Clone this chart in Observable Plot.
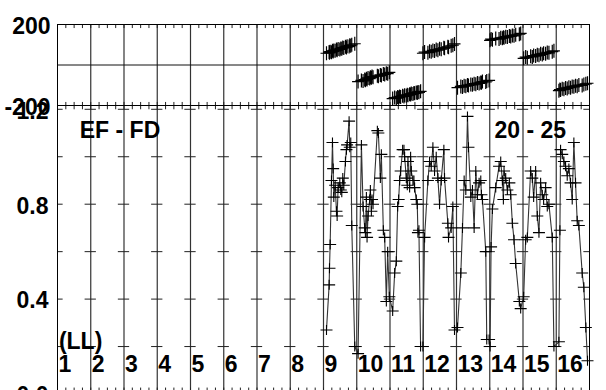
<!DOCTYPE html>
<html>
<head>
<meta charset="utf-8">
<script src="https://cdn.jsdelivr.net/npm/d3@7"></script>
<script src="https://cdn.jsdelivr.net/npm/@observablehq/plot@0.6"></script>
<style>
  html, body { margin: 0; padding: 0; background: white; overflow: hidden; }
  #chart { position: relative; width: 606px; height: 390px; overflow: hidden; background: white; }
  #chart svg { position: absolute; left: 0; top: 0; }
</style>
</head>
<body>
<div id="chart"></div>
<script>
// ---- data ----
// x position of each sample (column index scale 0..16), grouped by column 9..16
const xPos = [
  8.09, 8.17, 8.18, 8.20, 8.24, 8.27, 8.29, 8.31, 8.35, 8.39, 8.41, 8.44, 8.49, 8.52, 8.55, 8.58, 8.61, 8.66, 8.69, 8.71, 8.77, 8.79, 8.82, 8.85, 8.94,
  9.04, 9.14, 9.19, 9.24, 9.26, 9.29, 9.31, 9.34, 9.39, 9.41, 9.44, 9.46, 9.49, 9.62, 9.65, 9.71, 9.74, 9.80, 9.84, 9.89, 9.93, 9.98,
  10.08, 10.14, 10.19, 10.23, 10.26, 10.29, 10.32, 10.38, 10.42, 10.44, 10.49, 10.52, 10.54, 10.59, 10.62, 10.64, 10.69, 10.72, 10.74, 10.79, 10.82, 10.84, 10.87, 10.92,
  10.99, 11.04, 11.14, 11.19, 11.24, 11.29, 11.34, 11.39, 11.44, 11.49, 11.54, 11.62, 11.64, 11.74, 11.76, 11.84, 11.89, 11.94,
  12.03, 12.13, 12.18, 12.23, 12.28, 12.33, 12.36, 12.43, 12.48, 12.53, 12.58, 12.63, 12.68, 12.73, 12.75, 12.78, 12.88, 12.91, 12.98,
  13.01, 13.04, 13.08, 13.18, 13.28, 13.33, 13.38, 13.41, 13.43, 13.48, 13.53, 13.59, 13.63, 13.68, 13.73, 13.78, 13.89, 13.93,
  14.02, 14.08, 14.13, 14.23, 14.28, 14.32, 14.38, 14.43, 14.48, 14.53, 14.58, 14.62, 14.68, 14.73, 14.78, 14.88, 14.93,
  15.08, 15.11, 15.13, 15.18, 15.23, 15.28, 15.33, 15.38, 15.43, 15.48, 15.53, 15.58, 15.63, 15.68, 15.78, 15.83, 15.89, 15.94
];
// lower panel values (0 .. 1.2)
const ratio = [
  0.27, 0.46, 0.53, 0.63, 0.90, 1.06, 0.95, 0.83, 0.88, 0.77, 0.75, 0.87, 0.89, 0.86, 0.85, 0.91, 0.88, 0.98, 1.03, 1.05, 1.15, 1.04, 1.06, 0.71, 0.20,
  0.17, 1.05, 0.79, 0.70, 0.68, 0.83, 0.66, 0.75, 0.82, 0.86, 0.77, 0.82, 0.80, 1.11, 1.10, 0.91, 1.01, 0.69, 0.66, 0.39, 0.60, 0.41,
  0.35, 0.51, 0.56, 0.79, 0.82, 0.90, 0.94, 1.03, 1.03, 1.00, 0.91, 0.88, 0.98, 0.87, 1.00, 0.94, 0.90, 0.90, 0.87, 0.82, 0.80, 0.68, 0.69, 0.20,
  0.20, 0.66, 0.90, 0.98, 0.96, 1.04, 0.94, 1.00, 0.91, 0.80, 0.90, 1.03, 0.91, 0.72, 0.66, 0.70, 0.79, 0.27,
  0.28, 0.51, 0.70, 0.90, 0.86, 1.17, 1.04, 0.83, 0.86, 0.70, 0.94, 0.84, 0.89, 0.90, 0.84, 0.82, 0.60, 0.23, 0.23,
  0.20, 0.62, 0.78, 0.87, 0.96, 0.98, 0.90, 0.82, 0.94, 0.91, 0.86, 0.89, 0.84, 0.72, 0.65, 0.55, 0.39, 0.36,
  0.41, 0.65, 0.66, 0.94, 0.91, 0.83, 0.94, 0.75, 0.68, 0.89, 0.84, 0.82, 0.87, 0.79, 0.80, 0.66, 0.20,
  0.22, 0.69, 1.03, 1.01, 0.98, 0.96, 0.92, 0.95, 0.89, 0.82, 1.06, 0.89, 0.73, 0.71, 0.51, 0.45, 0.28, 0.14
];
// upper panel values (-200 .. 200)
const phase = [
  58, 64, 60, 66, 63, 70, 67, 72, 70, 76, 73, 79, 77, 82, 80, 86, 84, 90, 87, 93, 91, 97, 95, 100, 105,
  -82, -76, -79, -72, -75, -68, -71, -64, -67, -60, -63, -57, -60, -53, -55, -49, -52, -45, -47, -41, -43, -36,
  -166, -161, -164, -158, -161, -155, -158, -152, -155, -149, -152, -147, -149, -144, -146, -141, -143, -138, -140, -136, -138, -133, -135, -130,
  58, 64, 61, 68, 65, 72, 69, 76, 73, 80, 78, 85, 83, 90, 88, 95, 98, 104,
  -112, -106, -109, -102, -105, -99, -101, -96, -98, -92, -95, -89, -91, -86, -88, -82, -84, -79, -76,
  122, 128, 125, 131, 128, 134, 132, 137, 135, 140, 138, 143, 141, 146, 144, 149, 152, 156,
  33, 39, 36, 43, 40, 47, 44, 51, 48, 55, 52, 58, 56, 62, 60, 66, 70,
  -127, -121, -124, -117, -120, -113, -116, -110, -112, -106, -108, -103, -105, -99, -101, -96, -93, -90
];
const columnLabels = ["1","2","3","4","5","6","7","8","9","10","11","12","13","14","15","16"];
const topTickLabels = [200, -200];
const bottomTickLabels = [0.0, 0.4, 0.8, 1.2];
const bottomMinorTicks = [0.2, 0.4, 0.6, 0.8, 1.0, 1.2];
const leftTitle = "EF - FD";
const rightTitle = "20 - 25";
const unitLabel = "(LL)";

// ---- build ----
const points = xPos.map((x, i) => ({x, ratio: ratio[i], phase: phase[i]}));
const gridLines = d3.range(1, 16);
const quarterTicks = d3.range(0.25, 16, 0.25);
const crossTicks = [];
for (let k = 0; k <= 16; k++) for (const y of bottomMinorTicks) {
  crossTicks.push({y, x1: Math.max(0, k - 0.17), x2: Math.min(16, k + 0.17)});
}
const plus = {
  draw(ctx) { ctx.moveTo(-6, 0); ctx.lineTo(6, 0); ctx.moveTo(0, -5); ctx.lineTo(0, 5); }
};
const plusTall = {
  draw(ctx) { ctx.moveTo(-6, 0); ctx.lineTo(6, 0); ctx.moveTo(0, -7); ctx.lineTo(0, 7); }
};
const FONT = "'Liberation Sans', Arial, Helvetica, sans-serif";
const baseStyle = {background: "transparent", overflow: "visible", fontFamily: FONT, fontWeight: "bold", color: "black"};

const lowerPlot = Plot.plot({
  width: 606, height: 400,
  marginLeft: 57, marginRight: 17, marginTop: 105, marginBottom: 6.5,
  x: {domain: [0, 16], axis: null},
  y: {domain: [0, 1.216], axis: null},
  style: baseStyle,
  marks: [
    Plot.ruleX(gridLines, {stroke: "#333", strokeWidth: 1.2}),
    Plot.ruleY(crossTicks, {y: "y", x1: "x1", x2: "x2", stroke: "#222"}),
    Plot.ruleX(quarterTicks, {y1: 1.216, y2: 1.198, stroke: "#222"}),
    Plot.ruleX(quarterTicks, {y1: 0, y2: 0.025, stroke: "#222"}),
    Plot.frame({stroke: "black"}),
    Plot.line(points, {x: "x", y: "ratio", stroke: "#333", strokeWidth: 1.1}),
    Plot.dot(points, {x: "x", y: "ratio", symbol: plus, stroke: "black", fill: "none", strokeWidth: 1.1}),
    Plot.text(bottomTickLabels, {y: d => d, text: d => d3.format(".1f")(d), frameAnchor: "left", textAnchor: "end", dx: -9, dy: 2, fontSize: 23, fontWeight: "bold", fill: "black"}),
    Plot.text(columnLabels, {x: (d, i) => i, y: 0.122, text: d => d, textAnchor: "start", dx: 1, fontSize: 23, fontWeight: "bold", fill: "black"}),
    Plot.text([unitLabel], {x: 0, y: 0.2175, text: d => d, textAnchor: "start", dx: 1.4, dy: -1, fontSize: 23, fontWeight: "bold", fill: "black"}),
    Plot.text([leftTitle], {x: 0.67, y: 1.108, text: d => d, textAnchor: "start", fontSize: 23, fontWeight: "bold", fill: "black"}),
    Plot.text([rightTitle], {x: 13.14, y: 1.108, text: d => d, textAnchor: "start", fontSize: 23, fontWeight: "bold", fill: "black"})
  ]
});

const upperPlot = Plot.plot({
  width: 606, height: 110,
  marginLeft: 57, marginRight: 17, marginTop: 24, marginBottom: 5,
  x: {domain: [0, 16], axis: null},
  y: {domain: [-200, 200], axis: null},
  style: baseStyle,
  marks: [
    Plot.ruleX(gridLines, {stroke: "#333", strokeWidth: 1.2}),
    Plot.ruleY([0], {stroke: "#111"}),
    Plot.ruleX(quarterTicks, {y1: 200, y2: 180, stroke: "#222"}),
    Plot.ruleX(quarterTicks, {y1: -200, y2: -185, stroke: "#222"}),
    Plot.frame({stroke: "black"}),
    Plot.dot(points, {x: "x", y: "phase", symbol: plusTall, stroke: "black", fill: "none", strokeWidth: 1.2}),
    Plot.text(topTickLabels, {y: d => d, text: d => String(d), frameAnchor: "left", textAnchor: "end", dx: -7, dy: 2, fontSize: 23, fontWeight: "bold", fill: "black"})
  ]
});

const chartEl = document.getElementById("chart");
chartEl.appendChild(lowerPlot);
chartEl.appendChild(upperPlot);
</script>
</body>
</html>
